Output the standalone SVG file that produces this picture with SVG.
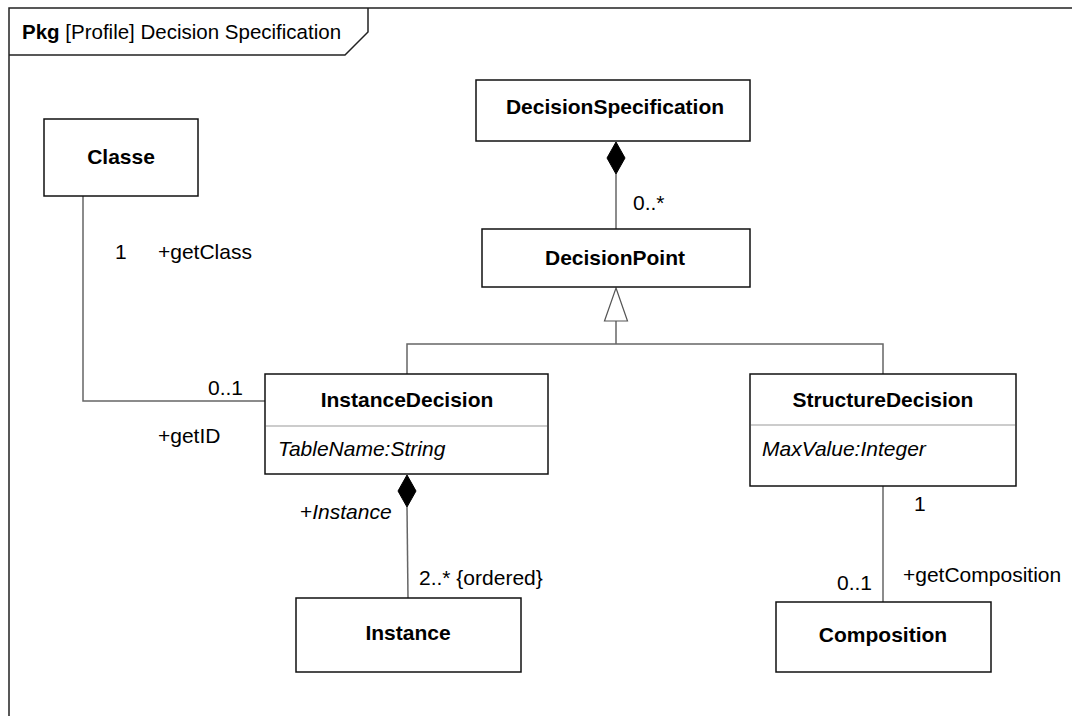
<svg xmlns="http://www.w3.org/2000/svg" width="1072" height="716" viewBox="0 0 1072 716">
  <style>
    text { font-family: "Liberation Sans", Arial, sans-serif; font-size: 21px; fill: #000; }
    .tab { font-size: 20.5px; }
    .title { font-weight: bold; text-anchor: middle; }
    .attr { font-style: italic; }
    .box { fill: #fff; stroke: #111; stroke-width: 1.5; }
    .sep { stroke: #999; stroke-width: 1; }
    .frame { fill: none; stroke: #222; stroke-width: 1.5; }
    .conn { fill: none; stroke: #666; stroke-width: 1.5; }
    .diamond { fill: #000; stroke: #000; stroke-width: 1; }
    .gen { fill: #fff; stroke: #555; stroke-width: 1.2; }
  </style>

  <!-- package frame with name tab -->
  <g id="frame">
    <rect class="frame" x="9" y="8" width="1080" height="730"/>
    <path class="frame" d="M9,55 H345 L368,32 V8"/>
    <text class="tab" x="22" y="39"><tspan font-weight="bold">Pkg</tspan> [Profile] Decision Specification</text>
  </g>

  <!-- connectors -->
  <g id="connectors">
    <!-- Classe : InstanceDecision association -->
    <polyline class="conn" points="83,196 83,401 265,401"/>
    <!-- DecisionSpecification composition of DecisionPoint -->
    <line class="conn" x1="616" y1="174" x2="616" y2="229"/>
    <polygon class="diamond" points="616,142 625,158 616,174 607,158"/>
    <!-- generalization to DecisionPoint -->
    <polyline class="conn" points="407,374 407,344 883,344 883,374"/>
    <line class="conn" x1="616" y1="321" x2="616" y2="344"/>
    <polygon class="gen" points="616,288 627.5,321 604.5,321"/>
    <!-- InstanceDecision composition of Instance -->
    <line class="conn" x1="407" y1="507" x2="408" y2="598"/>
    <polygon class="diamond" points="407,475 416,491 407,507 398,491"/>
    <!-- StructureDecision : Composition association -->
    <line class="conn" x1="883" y1="486" x2="883" y2="602"/>

    <text x="115" y="259">1</text>
    <text x="158" y="259">+getClass</text>
    <text x="208" y="395">0..1</text>
    <text x="158" y="443">+getID</text>
    <text x="633" y="210">0..*</text>
    <text x="300" y="519">+<tspan font-style="italic">Instance</tspan></text>
    <text x="419" y="585">2..* {ordered}</text>
    <text x="914" y="511">1</text>
    <text x="837" y="590">0..1</text>
    <text x="903" y="582">+getComposition</text>
  </g>

  <g id="Classe">
    <rect class="box" x="44" y="119" width="154" height="77"/>
    <text class="title" x="121" y="164">Classe</text>
  </g>

  <g id="DecisionSpecification">
    <rect class="box" x="476" y="80" width="274" height="61"/>
    <text class="title" x="615" y="114">DecisionSpecification</text>
  </g>

  <g id="DecisionPoint">
    <rect class="box" x="482" y="229" width="268" height="58"/>
    <text class="title" x="615" y="265">DecisionPoint</text>
  </g>

  <g id="InstanceDecision">
    <rect class="box" x="265" y="374" width="283" height="100"/>
    <line class="sep" x1="266" y1="426" x2="547" y2="426"/>
    <text class="title" x="407" y="407">InstanceDecision</text>
    <text class="attr" x="278" y="456">TableName:String</text>
  </g>

  <g id="StructureDecision">
    <rect class="box" x="750" y="374" width="266" height="112"/>
    <line class="sep" x1="751" y1="425" x2="1015" y2="425"/>
    <text class="title" x="883" y="407">StructureDecision</text>
    <text class="attr" x="762" y="456">MaxValue:Integer</text>
  </g>

  <g id="Instance">
    <rect class="box" x="296" y="598" width="225" height="74"/>
    <text class="title" x="408" y="640">Instance</text>
  </g>

  <g id="Composition">
    <rect class="box" x="776" y="602" width="215" height="70"/>
    <text class="title" x="883" y="642">Composition</text>
  </g>
</svg>
